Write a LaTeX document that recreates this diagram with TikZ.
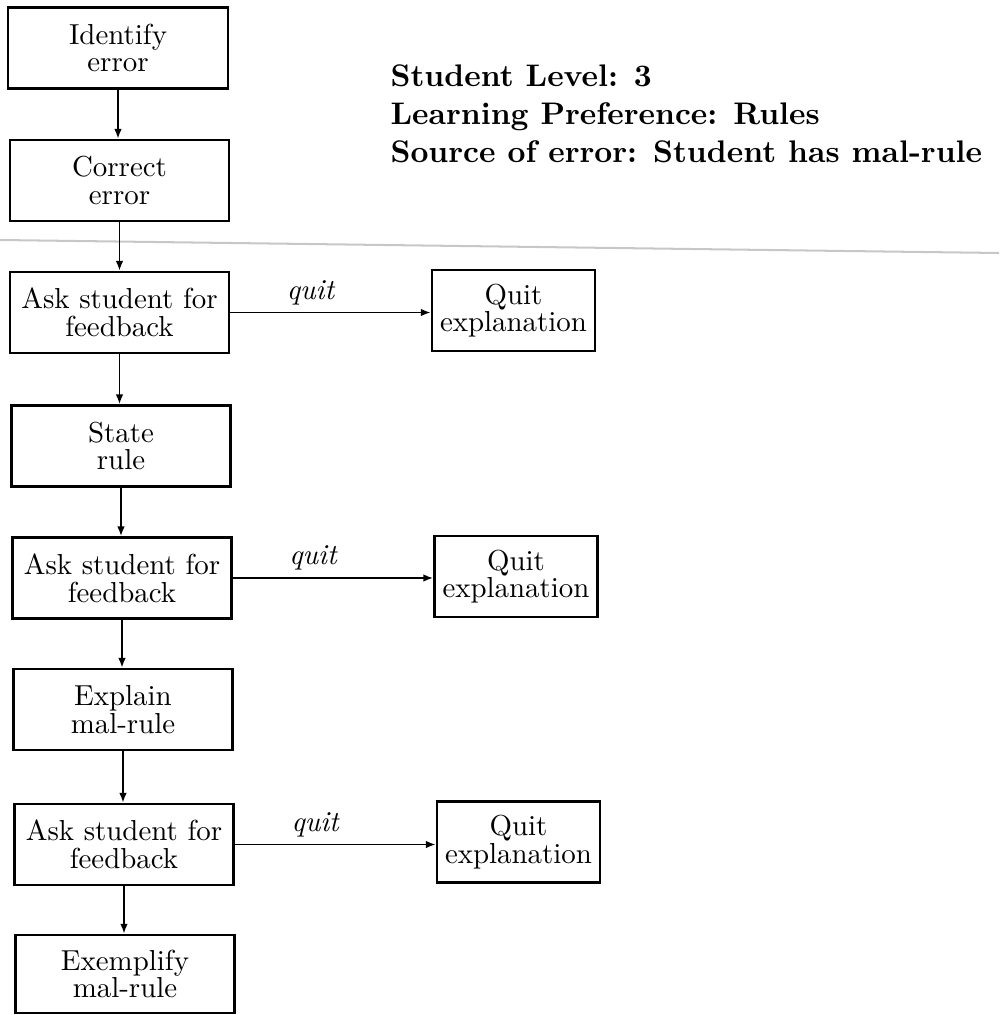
\documentclass[tikz,border=0pt]{standalone}
\usetikzlibrary{arrows.meta}
\begin{document}
\begin{tikzpicture}[x=0.346pt, y=-0.346pt,
  stepbox/.style={draw, line width=0.85pt, inner sep=0pt, align=center,
    minimum width=75.8pt, minimum height=28pt,
    font=\fontsize{10}{9.6}\selectfont},
  quitbox/.style={stepbox, minimum width=56.4pt},
  flow/.style={line width=0.65pt, -{Latex[length=3.4pt,width=2.6pt]}},
  quitlabel/.style={font=\fontsize{10}{12}\selectfont\itshape, anchor=base,
    inner sep=0pt, yshift=4.6pt, pos=0.4},
  infotext/.style={anchor=base west, inner sep=0pt, font=\fontsize{10.8}{13}\selectfont\bfseries}]
  \useasboundingbox (0,0) rectangle (999,1015);

  % separator rule across the page
  \coordinate (ruleL) at (0,240);
  \coordinate (ruleR) at (999,253);
  \draw[black!22, line width=0.7pt] (ruleL) -- (ruleR);

  % header information
  \node[infotext] (info1) at (390,87)  {Student Level: 3};
  \node[infotext] (info2) at (390,125) {Learning Preference: Rules};
  \node[infotext] (info3) at (390,163) {Source of error: Student has mal-rule};

  % main sequence
  \node[stepbox, minimum width=76.1pt] (ident) at (118,48)    {Identify\\error};
  \node[stepbox] (correct) at (119.5,180.5) {Correct\\error};
  \node[stepbox] (ask1)    at (119.5,312.5) {Ask student for\\feedback};
  \node[stepbox] (state)   at (121,446)     {State\\rule};
  \node[stepbox] (ask2)    at (122,578)     {Ask student for\\feedback};
  \node[stepbox] (explain) at (123,709.5)   {Explain\\mal-rule};
  \node[stepbox] (ask3)    at (124,844.5)   {Ask student for\\feedback};
  \node[stepbox, minimum height=27pt] (exemp) at (125,974) {Exemplify\\mal-rule};

  % quit branches
  \node[quitbox] (quit1) at (513.5,310.5) {Quit\\explanation};
  \node[quitbox] (quit2) at (516,576.5)   {Quit\\explanation};
  \node[quitbox] (quit3) at (518.5,842)   {Quit\\explanation};

  % vertical flow
  \draw[flow] (ident.south)   -- (ident.south |- correct.north);
  \draw[flow] (correct.south) -- (correct.south |- ask1.north);
  \draw[flow] (ask1.south)    -- (ask1.south |- state.north);
  \draw[flow] (state.south)   -- (state.south |- ask2.north);
  \draw[flow] (ask2.south)    -- (ask2.south |- explain.north);
  \draw[flow] (explain.south) -- (explain.south |- ask3.north);
  \draw[flow] (ask3.south)    -- (ask3.south |- exemp.north);

  % quit arrows
  \draw[flow] (ask1.east) -- (ask1.east -| quit1.west) node[quitlabel] {quit};
  \draw[flow] (ask2.east) -- (ask2.east -| quit2.west) node[quitlabel] {quit};
  \draw[flow] (ask3.east) -- (ask3.east -| quit3.west) node[quitlabel] {quit};
\end{tikzpicture}
\end{document}
